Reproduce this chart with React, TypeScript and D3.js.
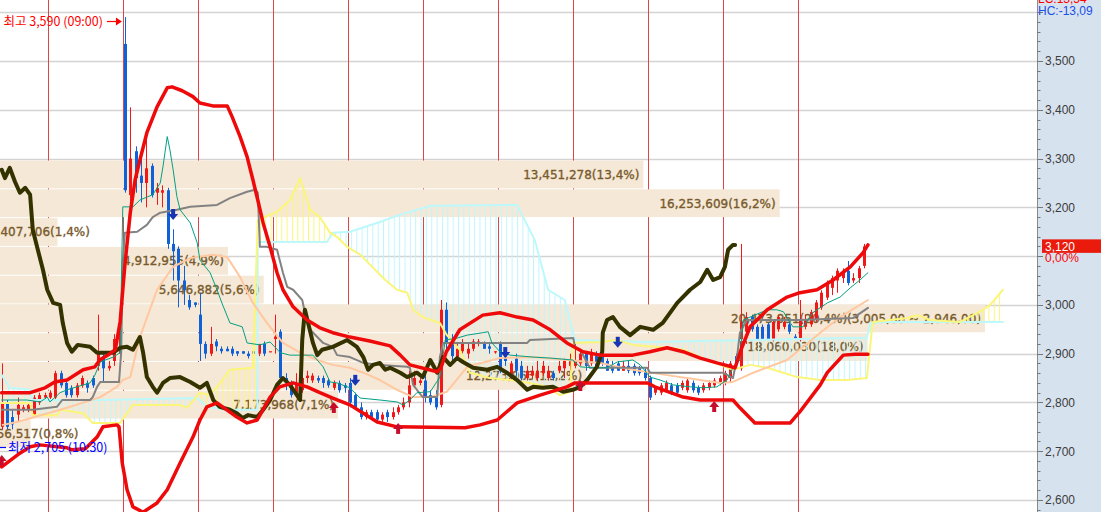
import React, { useEffect, useRef } from 'react';
import * as d3 from 'd3';

const WIDTH = 1101;
const HEIGHT = 512;

// [open, high, low, close] per candle
const candles: [number, number, number, number][] = [
  [2750, 2880, 2745, 2800], [2800, 2805, 2745, 2750], [2770, 2785, 2745, 2755], [2775, 2810, 2760, 2795],
  [2785, 2795, 2780, 2790], [2785, 2800, 2780, 2795], [2775, 2815, 2770, 2810], [2800, 2820, 2795, 2815],
  [2810, 2820, 2805, 2815], [2810, 2825, 2805, 2820], [2810, 2865, 2805, 2860], [2860, 2865, 2830, 2835],
  [2840, 2845, 2810, 2815], [2830, 2835, 2810, 2815], [2815, 2840, 2810, 2835], [2835, 2855, 2830, 2850],
  [2840, 2845, 2820, 2830], [2850, 2855, 2830, 2835], [2875, 2980, 2865, 2900], [2895, 2900, 2840, 2870],
  [2870, 2885, 2865, 2875], [2885, 2940, 2875, 2930], [2900, 2980, 2885, 2970], [3535, 3590, 3230, 3235],
  [3225, 3405, 3205, 3300], [3315, 3325, 3230, 3260], [3265, 3305, 3210, 3250], [3250, 3345, 3200, 3280],
  [3285, 3290, 3220, 3225], [3230, 3250, 3205, 3240], [3230, 3245, 3200, 3235], [3235, 3240, 3115, 3125],
  [3125, 3155, 3050, 3110], [3115, 3120, 2995, 3050], [3050, 3080, 3000, 3030], [3010, 3020, 2990, 2995],
  [3005, 3005, 2995, 3000], [2980, 3025, 2885, 2920], [2920, 2925, 2890, 2900], [2900, 2955, 2895, 2920],
  [2925, 2930, 2905, 2915], [2910, 2915, 2900, 2905], [2910, 2915, 2905, 2905], [2910, 2915, 2895, 2900],
  [2905, 2905, 2895, 2900], [2905, 2905, 2900, 2900], [2900, 2905, 2890, 2895], [2905, 2910, 2900, 2900],
  [2900, 2920, 2895, 2920], [2920, 2925, 2895, 2900], [2905, 2905, 2905, 2905], [2930, 2980, 2900, 2935],
  [2945, 2950, 2840, 2850], [2850, 2860, 2825, 2840], [2840, 2845, 2810, 2815], [2815, 2860, 2810, 2840],
  [2825, 2855, 2820, 2850], [2850, 2865, 2840, 2855], [2845, 2860, 2840, 2855], [2850, 2855, 2840, 2845],
  [2850, 2855, 2830, 2840], [2845, 2850, 2830, 2835], [2830, 2845, 2825, 2840], [2840, 2845, 2820, 2825],
  [2835, 2840, 2820, 2830], [2840, 2850, 2790, 2800], [2815, 2820, 2785, 2790], [2790, 2800, 2765, 2770],
  [2770, 2785, 2765, 2780], [2780, 2785, 2765, 2770], [2780, 2785, 2760, 2765], [2765, 2780, 2760, 2775],
  [2780, 2785, 2760, 2770], [2770, 2790, 2765, 2780], [2780, 2795, 2775, 2790], [2790, 2810, 2785, 2800],
  [2800, 2865, 2790, 2835], [2835, 2865, 2830, 2850], [2840, 2850, 2835, 2845], [2845, 2865, 2800, 2810],
  [2815, 2825, 2795, 2800], [2810, 2825, 2785, 2790], [2795, 3010, 2790, 2990], [2990, 3005, 2910, 2920],
  [2930, 2940, 2885, 2895], [2885, 2920, 2885, 2910], [2905, 2930, 2900, 2920], [2900, 2920, 2890, 2910],
  [2910, 2930, 2905, 2925], [2920, 2930, 2915, 2925], [2920, 2925, 2910, 2910], [2915, 2920, 2900, 2910],
  [2905, 2905, 2900, 2905], [2920, 2925, 2860, 2865], [2900, 2905, 2875, 2885], [2850, 2885, 2845, 2880],
  [2890, 2900, 2855, 2865], [2875, 2885, 2845, 2850], [2850, 2875, 2845, 2865], [2855, 2875, 2850, 2865],
  [2850, 2885, 2845, 2865], [2860, 2885, 2855, 2875], [2850, 2875, 2845, 2865], [2860, 2865, 2845, 2850],
  [2865, 2885, 2860, 2875], [2870, 2890, 2850, 2885], [2875, 2900, 2865, 2885], [2875, 2920, 2870, 2885],
  [2880, 2910, 2875, 2900], [2900, 2905, 2865, 2875], [2880, 2910, 2875, 2900], [2895, 2905, 2870, 2875],
  [2895, 2910, 2875, 2880], [2885, 2890, 2865, 2865], [2875, 2885, 2860, 2865], [2880, 2885, 2865, 2865],
  [2865, 2885, 2865, 2875], [2875, 2885, 2860, 2865], [2875, 2880, 2855, 2860], [2870, 2875, 2855, 2860],
  [2865, 2870, 2845, 2850], [2850, 2855, 2805, 2810], [2820, 2830, 2815, 2830], [2820, 2840, 2815, 2835],
  [2825, 2845, 2820, 2840], [2835, 2840, 2815, 2820], [2835, 2840, 2815, 2820], [2830, 2845, 2825, 2840],
  [2825, 2850, 2820, 2845], [2840, 2845, 2820, 2825], [2830, 2835, 2815, 2820], [2825, 2840, 2820, 2835],
  [2830, 2845, 2825, 2840], [2835, 2850, 2830, 2845], [2840, 2855, 2835, 2850], [2840, 2865, 2835, 2860],
  [2850, 2885, 2840, 2880], [2895, 2900, 2875, 2880], [2870, 3125, 2865, 2965], [2945, 2985, 2920, 2975],
  [2975, 2980, 2945, 2950], [2955, 2960, 2930, 2930], [2955, 2960, 2930, 2930], [2960, 2965, 2930, 2930],
  [2930, 2970, 2925, 2965], [2950, 2980, 2945, 2975], [2955, 2975, 2950, 2965], [2960, 2965, 2940, 2945],
  [2935, 2940, 2930, 2930], [2930, 3010, 2925, 2970], [2955, 2980, 2950, 2970], [2960, 2990, 2955, 2985],
  [2970, 3010, 2965, 3005], [2995, 3030, 2990, 3025], [3015, 3050, 3010, 3045], [3035, 3060, 3020, 3055],
  [3050, 3075, 3025, 3070], [3055, 3075, 3045, 3070], [3070, 3090, 3040, 3045], [3050, 3065, 3045, 3055],
  [3055, 3080, 3045, 3075], [3080, 3125, 3075, 3120],
];

// candle indices where a new time block starts (vertical separators)
const sessionStarts = [9, 23, 37, 51, 65, 79, 93, 107, 121, 135, 149];

// indicator lines: [candle index, price]
const bbUpper: [number, number][] = [
  [0, 2820], [5.3, 2820], [8.1, 2830], [9.9, 2842], [12.2, 2846], [15.2, 2867], [17.4, 2873], [18.3, 2887],
  [20.2, 2900], [21.2, 2908], [22.1, 2965], [23.0, 3082], [24.0, 3189], [24.9, 3256], [25.8, 3297], [27.1, 3353],
  [29.0, 3406], [30.9, 3445], [31.8, 3447], [33.7, 3439], [35.7, 3427], [37.0, 3414], [39.4, 3408], [42.1, 3408],
  [43.0, 3386], [44.5, 3345], [45.8, 3304], [46.9, 3256], [47.8, 3215], [48.8, 3168], [50.1, 3119], [51.4, 3066],
  [52.5, 3031], [54.4, 2996], [57.0, 2969], [59.4, 2953], [61.8, 2943], [65.0, 2934], [68.7, 2926], [72.5, 2916],
  [74.4, 2897], [76.2, 2877], [81.3, 2863], [82.0, 2871], [83.0, 2904], [85.5, 2949], [89.8, 2979], [93.0, 2984],
  [96.2, 2975], [99.2, 2969], [102.4, 2949], [105.5, 2922], [108.5, 2904], [111.7, 2897], [117.8, 2897], [121.0, 2904],
  [124.2, 2912], [127.2, 2904], [130.4, 2891], [133.5, 2881], [136.9, 2871], [138.0, 2908], [139.7, 2955], [142.9, 2990],
  [146.6, 3016], [149.0, 3025], [152.2, 3031], [155.2, 3051], [158.4, 3078], [160.8, 3107], [161.7, 3123],
];

const bbLower: [number, number][] = [
  [0, 2668], [3.4, 2696], [5.3, 2709], [7.1, 2713], [12.2, 2707], [13.1, 2703], [15.6, 2705], [17.8, 2729],
  [18.9, 2750], [21.5, 2754], [21.9, 2750], [22.5, 2676], [23.4, 2621], [24.5, 2586], [26.4, 2575], [29.0, 2594],
  [30.9, 2621], [33.3, 2676], [35.7, 2729], [37.0, 2764], [38.3, 2791], [40.2, 2799], [43.9, 2770], [45.8, 2758],
  [47.7, 2764], [50.1, 2811], [51.9, 2832], [54.4, 2840], [57.0, 2832], [59.4, 2820], [61.8, 2809], [65.0, 2795],
  [67.5, 2778], [70.1, 2760], [73.8, 2750], [86.5, 2748], [89.3, 2754], [92.5, 2764], [96.2, 2799], [100.5, 2815],
  [105.5, 2832], [107.0, 2840], [120.6, 2840], [121.9, 2832], [127.2, 2811], [130.4, 2805], [136.5, 2805], [137.8, 2789],
  [140.6, 2758], [147.2, 2758], [149.0, 2781], [152.8, 2836], [154.1, 2861], [157.1, 2897], [159.3, 2899], [161.7, 2899],
];

const movingAvg: [number, number][] = [
  [0.2, 2754], [2.9, 2760], [12.2, 2789], [18.4, 2811], [21.5, 2832], [22.6, 2846], [24.0, 2852], [25.8, 2934],
  [29.0, 3031], [32.0, 3078], [35.2, 3096], [39.5, 3103], [42.1, 3098], [44.5, 3057], [46.9, 3004], [49.5, 2963],
  [52.5, 2922], [55.7, 2902], [58.9, 2887], [61.8, 2877], [65.0, 2871], [67.5, 2861], [70.6, 2846], [73.8, 2826],
  [76.8, 2811], [80.0, 2811], [83.1, 2822], [86.9, 2873], [93.0, 2891], [99.2, 2893], [105.5, 2887], [111.7, 2881],
  [117.8, 2867], [124.2, 2856], [130.4, 2846], [134.1, 2840], [136.5, 2842], [140.3, 2861], [146.6, 2887], [152.8, 2943],
  [156.5, 2975], [161.7, 3010],
];

const conversionLine: [number, number][] = [
  [0, 2805], [4.7, 2805], [7.2, 2801], [8.5, 2811], [9.0, 2801], [10.0, 2811], [10.9, 2820], [12.2, 2826],
  [16.5, 2840], [17.4, 2856], [18.4, 2883], [20.8, 2893], [22.1, 2902], [22.6, 3201], [24.5, 3201], [25.8, 3215],
  [28.2, 3226], [29.6, 3250], [30.1, 3283], [30.9, 3345], [31.4, 3318], [32.0, 3277], [32.7, 3222], [33.3, 3195],
  [35.2, 3168], [36.5, 3127], [37.0, 3092], [38.9, 3066], [40.2, 3031], [41.1, 3004], [42.6, 2963], [44.9, 2955],
  [45.8, 2922], [48.2, 2918], [50.1, 2924], [52.0, 2902], [53.8, 2897], [58.1, 2897], [60.0, 2873], [61.3, 2842],
  [62.6, 2840], [65.0, 2830], [66.9, 2809], [70.6, 2805], [73.8, 2801], [74.9, 2795], [76.2, 2805], [77.5, 2820],
  [80.0, 2822], [81.8, 2852], [82.8, 2928], [85.0, 2932], [86.9, 2938], [89.8, 2943], [90.8, 2945], [91.5, 2922],
  [93.0, 2904], [94.9, 2897], [99.2, 2893], [102.4, 2891], [106.6, 2887], [108.0, 2873], [110.4, 2871], [113.0, 2871],
  [114.9, 2883], [117.8, 2887], [119.2, 2877], [121.0, 2852], [122.9, 2846], [125.3, 2836], [128.5, 2832], [130.9, 2830],
  [133.5, 2832], [135.4, 2846], [136.5, 2871], [137.8, 2887], [138.4, 2969], [139.7, 2975], [142.9, 2990], [144.7, 2990],
  [145.9, 2986], [147.7, 2955], [149.6, 2955], [151.4, 2984], [154.1, 3004], [156.5, 3016], [158.4, 3035], [160.2, 3051],
  [161.7, 3066],
];

const baseLine: [number, number][] = [
  [0, 2785], [5.8, 2785], [10.3, 2791], [11.3, 2805], [16.5, 2805], [17.0, 2811], [17.8, 2832], [18.4, 2842],
  [21.9, 2842], [22.3, 2902], [22.6, 3086], [23.0, 3148], [25.3, 3150], [27.1, 3164], [28.2, 3180], [29.6, 3189],
  [32.7, 3195], [35.2, 3201], [40.2, 3205], [42.6, 3219], [45.8, 3232], [47.3, 3236], [47.8, 3230], [48.2, 3119],
  [49.5, 3119], [51.4, 3113], [52.5, 3066], [53.3, 3037], [54.4, 3031], [56.1, 3010], [56.6, 2984], [57.6, 2949],
  [60.0, 2922], [61.8, 2914], [62.6, 2897], [65.0, 2893], [67.5, 2881], [70.6, 2877], [75.7, 2873], [76.2, 2871],
  [76.8, 2836], [77.5, 2826], [78.6, 2811], [81.3, 2811], [81.8, 2893], [82.4, 2922], [98.1, 2922], [98.6, 2928],
  [106.7, 2932], [107.0, 2914], [108.0, 2908], [109.3, 2881], [109.8, 2871], [120.5, 2871], [121.0, 2861], [134.6, 2861],
  [136.5, 2850], [137.2, 2887], [137.8, 2943], [139.1, 2969], [149.0, 2969], [158.9, 2973], [161.7, 2994],
];

const laggingSpan: [number, number][] = [
  [0, 3277], [0.6, 3260], [1.5, 3281], [2.5, 3252], [3.4, 3230], [4.4, 3240], [5.3, 3226], [5.8, 3154],
  [6.6, 3119], [7.7, 3072], [8.5, 3031], [9.6, 3004], [10.9, 3000], [11.4, 2963], [12.2, 2922], [13.1, 2904],
  [14.2, 2918], [16.5, 2914], [17.8, 2902], [20.8, 2902], [22.1, 2912], [23.4, 2914], [24.5, 2908], [25.8, 2934],
  [26.4, 2902], [27.1, 2852], [28.2, 2832], [29.0, 2820], [30.1, 2840], [31.4, 2850], [33.3, 2852], [35.2, 2842],
  [37.0, 2830], [38.3, 2840], [39.5, 2805], [40.7, 2791], [42.6, 2785], [43.9, 2778], [45.0, 2768], [46.0, 2774],
  [47.7, 2770], [48.8, 2785], [50.1, 2805], [51.4, 2836], [52.5, 2850], [53.8, 2836], [55.1, 2815], [55.7, 2805],
  [56.1, 2928], [56.6, 2990], [57.2, 2963], [58.1, 2922], [58.9, 2897], [59.8, 2908], [61.8, 2914], [64.5, 2928],
  [66.3, 2914], [67.5, 2893], [68.4, 2867], [69.3, 2877], [70.6, 2881], [71.6, 2867], [72.5, 2871], [74.4, 2861],
  [75.7, 2852], [77.5, 2861], [78.6, 2852], [80.0, 2887], [81.3, 2861], [82.4, 2893], [83.7, 2877], [85.0, 2891],
  [86.1, 2883], [88.0, 2871], [90.6, 2867], [92.5, 2873], [94.3, 2861], [96.2, 2846], [98.1, 2826], [99.2, 2832],
  [101.0, 2830], [102.9, 2832], [104.8, 2822], [106.6, 2826], [108.0, 2832], [109.3, 2846], [111.1, 2873], [112.1, 2904],
  [112.2, 2943], [113.0, 2969], [114.1, 2975], [115.4, 2955], [117.3, 2938], [119.2, 2955], [121.6, 2949], [123.4, 2963],
  [126.1, 3004], [128.5, 3031], [130.4, 3047], [131.7, 3072], [132.8, 3051], [134.1, 3057], [135.0, 3078], [135.6, 3113],
  [136.5, 3123], [136.9, 3123],
];

const leadingSpanA: [number, number][] = [
  [0, 2799], [5.3, 2799], [5.8, 2774], [10.3, 2774], [10.9, 2785], [15.2, 2778], [17.0, 2758], [22.1, 2758],
  [24.5, 2795], [33.3, 2795], [34.6, 2789], [37.0, 2820], [38.9, 2815], [40.2, 2832], [42.6, 2867], [46.9, 2871],
  [47.8, 3174], [51.4, 3191], [53.8, 3215], [55.7, 3260], [57.6, 3195], [59.4, 3180], [61.3, 3148], [62.6, 3139],
  [64.5, 3119], [66.9, 3103], [71.6, 3051], [73.8, 3031], [75.7, 3025], [76.8, 2990], [78.6, 2975], [81.8, 2963],
  [83.1, 2938], [85.5, 2908], [87.4, 2861], [91.1, 2850], [94.9, 2846], [98.6, 2840], [101.8, 2832], [104.2, 2815],
  [106.1, 2822], [106.6, 2922], [111.7, 2924], [114.9, 2928], [117.8, 2918], [124.2, 2912], [127.2, 2908], [130.4, 2893],
  [134.1, 2877], [136.5, 2867], [139.7, 2877], [142.9, 2871], [145.3, 2863], [148.5, 2852], [152.8, 2846], [157.8, 2846],
  [161.5, 2850], [162.6, 2965], [169.0, 2973], [170.9, 2979], [173.3, 2969], [178.9, 2965], [183.2, 2990], [184.5, 3000],
  [186.9, 3031],
];

const leadingSpanB: [number, number][] = [
  [0, 2856], [1.5, 2830], [5.3, 2826], [5.8, 2805], [18.4, 2805], [36.5, 2809], [38.3, 2791], [42.1, 2785],
  [47.7, 2785], [47.8, 3129], [60.7, 3129], [61.8, 3148], [65.0, 3150], [70.6, 3170], [74.4, 3185], [80.0, 3203],
  [96.2, 3205], [99.5, 3133], [102.0, 3031], [105.1, 3010], [107.0, 2928], [121.0, 2924], [139.7, 2928], [157.8, 2932],
  [161.5, 2932], [162.1, 2963], [165.3, 2965], [186.9, 2965],
];

// price-volume profile
const profileTop = [3300, 3241, 3182, 3123, 3064, 3005, 2946, 2887, 2828, 2769];
const profileStep = 59;
const profileVolume = [13451278, 16253609, 1407706, 4912955, 5646882, 20473951, 18060030, 12273963, 7173968, 856517];
const profilePct = [13.4, 16.2, 1.4, 4.9, 5.6, 20.4, 18.0, 12.2, 7.1, 0.8];

// signal markers: [candle index, price at arrow tip]
const sellSignals: [number, number][] = [[32, 3174], [66, 2834], [94, 2891], [115, 2912]];
const buySignals: [number, number][] = [[0, 2692], [62, 2801], [74, 2758], [108, 2846], [133, 2803]];

const axisLabels = [2600, 2700, 2800, 2900, 3000, 3100, 3200, 3300, 3400, 3500];
const gridPrices = [2600, 2700, 2800, 2900, 3000, 3100, 3200, 3300, 3400, 3500, 3600];

const lastPrice = 3120;
const lastChangePct = 0.0;
const highPoint = { index: 23, price: 3590, time: '09:00' };
const lowPoint = { price: 2705, time: '10:30' };
const lcValue = 13.54;
const hcValue = -13.09;

const commaDec = (v: number, d: number) => d3.format(`,.${d}f`)(v).replace(/\.(\d+)$/, ',$1');

export default function App() {
  const ref = useRef<SVGSVGElement>(null);

  useEffect(() => {
    document.body.style.margin = '0';
    document.body.style.overflow = 'hidden';
    const svg = d3.select(ref.current as SVGSVGElement);
    svg.selectAll('*').remove();

    const plotRight = 1037;
    const x = d3.scaleLinear().domain([0, 14]).range([1.7, 76.7]);
    const y = d3.scaleLinear().domain([2600, 3500]).range([500, 61]);
    const step = x(1) - x(0);

    const UP = '#f01818';
    const DOWN = '#1060d8';

    const defs = svg.append('defs');
    const mkPattern = (id: string, color: string) => {
      const p = defs.append('pattern').attr('id', id).attr('patternUnits', 'userSpaceOnUse')
        .attr('x', x(0) + 1).attr('y', 0).attr('width', step).attr('height', 8);
      p.append('rect').attr('x', 0).attr('y', 0).attr('width', 1).attr('height', 8).attr('fill', color);
    };
    mkPattern('hatchY', '#fdf47c');
    mkPattern('hatchC', '#bff6fb');
    defs.append('clipPath').attr('id', 'plotClip').append('rect')
      .attr('x', 0).attr('y', 0).attr('width', plotRight).attr('height', HEIGHT);

    const line = d3.line<[number, number]>().x(d => x(d[0])).y(d => y(d[1]));
    const polyBelow = (pts: [number, number][]) =>
      `${line(pts)}L${x(pts[pts.length - 1][0])},${HEIGHT + 200}L${x(pts[0][0])},${HEIGHT + 200}Z`;
    const polyAbove = (pts: [number, number][]) =>
      `${line(pts)}L${x(pts[pts.length - 1][0])},-200L${x(pts[0][0])},-200Z`;
    defs.append('clipPath').attr('id', 'belowA').append('path').attr('d', polyBelow(leadingSpanA));
    defs.append('clipPath').attr('id', 'belowB').append('path').attr('d', polyBelow(leadingSpanB));

    // backgrounds
    svg.append('rect').attr('x', 0).attr('y', 0).attr('width', WIDTH).attr('height', HEIGHT).attr('fill', '#ffffff');
    svg.append('rect').attr('x', plotRight).attr('y', 0).attr('width', WIDTH - plotRight).attr('height', HEIGHT).attr('fill', '#d7e2ef');

    const plot = svg.append('g').attr('clip-path', 'url(#plotClip)');

    // grid
    plot.selectAll('line.grid').data(gridPrices).join('line')
      .attr('x1', 0).attr('x2', plotRight)
      .attr('y1', d => Math.round(y(d)) + 0.5).attr('y2', d => Math.round(y(d)) + 0.5)
      .attr('stroke', '#d3d3d3').attr('stroke-width', 1.6);

    // session separators
    plot.selectAll('line.sess').data(sessionStarts).join('line')
      .attr('x1', d => Math.round(x(d) - 2) + 0.5).attr('x2', d => Math.round(x(d) - 2) + 0.5)
      .attr('y1', 0).attr('y2', HEIGHT)
      .attr('stroke', '#dc4646').attr('stroke-width', 1);

    // volume profile
    const profileOriginX = -11;
    const profileMaxX = 985;
    const wScale = d3.scaleLinear().domain([0, d3.max(profileVolume) as number]).range([0, profileMaxX - profileOriginX]);
    const maxIdx = profileVolume.indexOf(d3.max(profileVolume) as number);
    profileTop.forEach((top, i) => {
      const bottom = top - profileStep;
      const y0 = y(top) + 2;
      const y1 = y(bottom) + 1;
      plot.append('rect').attr('x', profileOriginX).attr('y', y0)
        .attr('width', wScale(profileVolume[i])).attr('height', y1 - y0).attr('fill', '#f5e8d6');
    });
    profileTop.forEach((top, i) => {
      const bottom = top - profileStep;
      const y0 = y(top) + 2;
      const y1 = y(bottom) + 1;
      const end = profileOriginX + wScale(profileVolume[i]);
      let label = `${d3.format(',')(profileVolume[i])}(${profilePct[i].toFixed(1).replace('.', ',')}%)`;
      if (i === maxIdx) label += `(${commaDec(top, 2)} ~ ${commaDec(bottom, 2)})`;
      const t = plot.append('text').text(label)
        .attr('y', (y0 + y1) / 2).attr('dy', '0.36em')
        .attr('font-family', "'DejaVu Sans', sans-serif").attr('font-size', 12)
        .attr('fill', '#785a2c').attr('stroke', '#785a2c').attr('stroke-width', 0.35);
      const w = (t.node() as SVGTextElement).getComputedTextLength();
      if (end - 4 - w >= profileOriginX) t.attr('x', end - 4).attr('text-anchor', 'end');
      else t.attr('x', profileOriginX).attr('text-anchor', 'start');
    });

    // ichimoku cloud hatch
    plot.append('path').attr('d', polyAbove(leadingSpanB)).attr('fill', 'url(#hatchY)').attr('clip-path', 'url(#belowA)');
    plot.append('path').attr('d', polyAbove(leadingSpanA)).attr('fill', 'url(#hatchC)').attr('clip-path', 'url(#belowB)');

    // candles
    const cg = plot.append('g');
    candles.forEach((c, i) => {
      const [o, h, l, cl] = c;
      const color = cl >= o ? UP : DOWN;
      const cx = Math.round(x(i)) + 0.5;
      cg.append('line').attr('x1', cx).attr('x2', cx).attr('y1', y(h)).attr('y2', y(l))
        .attr('stroke', color).attr('stroke-width', 1);
      const top = y(Math.max(o, cl));
      const bot = y(Math.min(o, cl));
      cg.append('rect').attr('x', cx - 1.5).attr('y', top).attr('width', 3)
        .attr('height', Math.max(1.2, bot - top)).attr('fill', color);
    });

    const drawLine = (pts: [number, number][], color: string, width: number) => {
      plot.append('path').attr('d', line(pts)).attr('fill', 'none').attr('stroke', color)
        .attr('stroke-width', width).attr('stroke-linejoin', 'round').attr('stroke-linecap', 'round');
    };
    drawLine(leadingSpanB, '#bdf8fb', 2);
    drawLine(leadingSpanA, '#fbf57a', 2);
    drawLine(movingAvg, '#ffc8a0', 2);
    drawLine(baseLine, '#828282', 2);
    drawLine(conversionLine, '#03a083', 1);
    drawLine(laggingSpan, '#343300', 4);
    drawLine(bbUpper, '#ee0a0a', 3.5);
    drawLine(bbLower, '#ee0a0a', 3.5);

    // signal markers
    sellSignals.forEach(([i, p]) => {
      const cx = x(i), ty = y(p);
      plot.append('rect').attr('x', cx - 2).attr('y', ty - 11).attr('width', 4).attr('height', 5.5).attr('fill', '#1634b4');
      plot.append('path').attr('d', `M${cx - 5},${ty - 6}L${cx + 5},${ty - 6}L${cx},${ty}Z`).attr('fill', '#1634b4');
    });
    buySignals.forEach(([i, p]) => {
      const cx = x(i), ty = y(p);
      plot.append('path').attr('d', `M${cx - 5},${ty + 6}L${cx + 5},${ty + 6}L${cx},${ty}Z`).attr('fill', '#c80c2c');
      plot.append('rect').attr('x', cx - 2).attr('y', ty + 5.5).attr('width', 4).attr('height', 5.5).attr('fill', '#c80c2c');
    });

    // high / low annotations
    const cjk = "'Noto Sans CJK KR', 'Noto Sans', sans-serif";
    const hx = x(highPoint.index) - 3;
    const hy = Math.round(y(highPoint.price)) + 4.5;
    plot.append('line').attr('x1', hx - 15).attr('x2', hx - 5).attr('y1', hy).attr('y2', hy).attr('stroke', '#ff0000').attr('stroke-width', 1.2);
    plot.append('path').attr('d', `M${hx - 6},${hy - 4}L${hx},${hy}L${hx - 6},${hy + 4}Z`).attr('fill', '#ff0000');
    plot.append('text').text(`최고 ${d3.format(',')(highPoint.price)} (${highPoint.time})`)
      .attr('x', hx - 19).attr('y', hy + 4.5).attr('text-anchor', 'end')
      .attr('font-family', cjk).attr('font-size', 12.5).attr('fill', '#ff0000');

    const ly = Math.round(y(lowPoint.price)) - 1.5;
    plot.append('line').attr('x1', -6).attr('x2', 6).attr('y1', ly).attr('y2', ly).attr('stroke', '#0000ff').attr('stroke-width', 1.2);
    plot.append('text').text(`최저 ${d3.format(',')(lowPoint.price)} (${lowPoint.time})`)
      .attr('x', 8).attr('y', ly + 4.5)
      .attr('font-family', cjk).attr('font-size', 12.5).attr('fill', '#0000ff');

    // right axis
    const axisFont = "'Liberation Sans', Arial, sans-serif";
    svg.append('line').attr('x1', plotRight + 0.5).attr('x2', plotRight + 0.5).attr('y1', 0).attr('y2', HEIGHT)
      .attr('stroke', '#8a8a8a').attr('stroke-width', 1);
    const minorTicks = d3.range(2580, 3620, 20);
    svg.selectAll('line.minor').data(minorTicks).join('line')
      .attr('x1', plotRight).attr('x2', d => plotRight + (d % 100 === 0 ? 6 : 3.5))
      .attr('y1', d => Math.round(y(d)) + 0.5).attr('y2', d => Math.round(y(d)) + 0.5)
      .attr('stroke', '#777').attr('stroke-width', 1);
    const py = y(lastPrice);
    // labels that would sit under the current-price tag are hidden, as in the HTS view
    const visibleLabels = axisLabels.filter(d => Math.abs(y(d) - py) > 16);
    svg.selectAll('text.axis').data(visibleLabels).join('text')
      .attr('x', plotRight + 8).attr('y', d => y(d)).attr('dy', '0.36em')
      .attr('font-family', axisFont).attr('font-size', 12).attr('fill', '#3c3c3c')
      .text(d => d3.format(',')(d));

    // current price box
    svg.append('rect').attr('x', plotRight + 5).attr('y', py - 7).attr('width', WIDTH - plotRight - 5).attr('height', 13.5).attr('fill', '#ea1a0c');
    svg.append('text').text(d3.format(',')(lastPrice)).attr('x', plotRight + 8).attr('y', py).attr('dy', '0.36em')
      .attr('font-family', axisFont).attr('font-size', 12).attr('fill', '#ffffff');
    svg.append('text').text(`${lastChangePct.toFixed(2).replace('.', ',')}%`).attr('x', plotRight + 8).attr('y', py + 15.5)
      .attr('font-family', axisFont).attr('font-size', 12).attr('fill', '#ff0000');

    // LC / HC
    svg.append('text').text(`LC:${lcValue.toFixed(2).replace('.', ',')}`).attr('x', plotRight + 1).attr('y', 3)
      .attr('font-family', axisFont).attr('font-size', 12).attr('fill', '#ff0000');
    svg.append('text').text(`HC:${hcValue.toFixed(2).replace('.', ',')}`).attr('x', plotRight + 1).attr('y', 14.5)
      .attr('font-family', axisFont).attr('font-size', 12).attr('fill', '#1a50e8');
  }, []);

  return (
    <svg ref={ref} width={WIDTH} height={HEIGHT}
      style={{ position: 'absolute', left: 0, top: 0, display: 'block' }} />
  );
}
